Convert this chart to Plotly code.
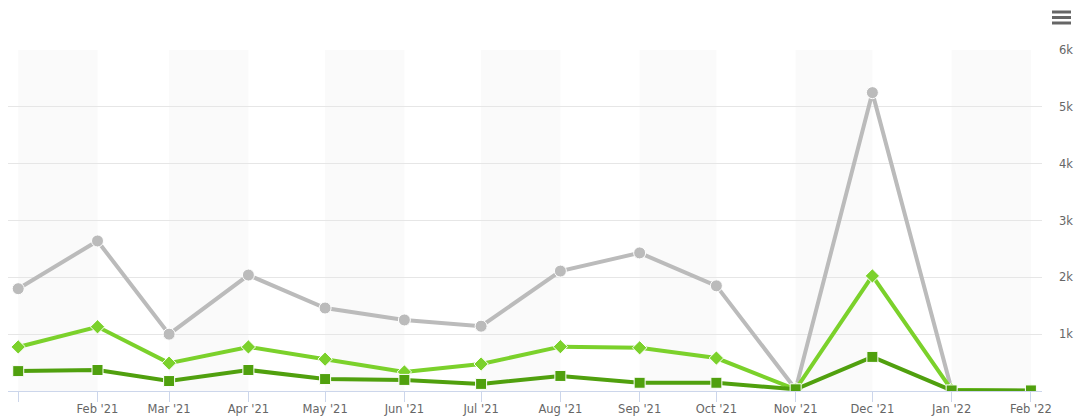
import plotly.graph_objects as go

# Monthly data points
months = ["2021-01-01", "2021-02-01", "2021-03-01", "2021-04-01", "2021-05-01",
          "2021-06-01", "2021-07-01", "2021-08-01", "2021-09-01", "2021-10-01",
          "2021-11-01", "2021-12-01", "2022-01-01", "2022-02-01"]
month_labels = ["", "Feb '21", "Mar '21", "Apr '21", "May '21", "Jun '21", "Jul '21",
                "Aug '21", "Sep '21", "Oct '21", "Nov '21", "Dec '21", "Jan '22", "Feb '22"]

total = [1800, 2640, 1000, 2040, 1460, 1250, 1140, 2110, 2430, 1850, 30, 5250, 20, 0]
mid = [775, 1130, 490, 775, 560, 335, 475, 780, 760, 580, 30, 2025, 20, 0]
low = [350, 370, 175, 370, 210, 195, 125, 265, 145, 145, 30, 600, 10, 10]

y_ticks = [1000, 2000, 3000, 4000, 5000, 6000]
y_labels = ["1k", "2k", "3k", "4k", "5k", "6k"]

GRAY = "#bbbbbb"
LIGHT = "#7bd12b"
DARK = "#50a00e"

fig = go.Figure()
fig.add_trace(go.Scatter(x=months, y=total, mode="lines+markers",
                         line=dict(color=GRAY, width=4),
                         marker=dict(symbol="circle", size=12, color=GRAY,
                                     line=dict(color="white", width=1)),
                         showlegend=False))
fig.add_trace(go.Scatter(x=months, y=mid, mode="lines+markers",
                         line=dict(color=LIGHT, width=4),
                         marker=dict(symbol="diamond", size=11, color=LIGHT,
                                     line=dict(color="white", width=1)),
                         showlegend=False))
fig.add_trace(go.Scatter(x=months, y=low, mode="lines+markers",
                         line=dict(color=DARK, width=4),
                         marker=dict(symbol="square", size=11, color=DARK,
                                     line=dict(color="white", width=1)),
                         showlegend=False))

# Alternating month bands
shapes = []
for i in range(0, len(months) - 1, 2):
    shapes.append(dict(type="rect", xref="x", yref="paper",
                       x0=months[i], x1=months[i + 1], y0=0, y1=1,
                       fillcolor="#fafafa", line=dict(width=0), layer="below"))

# Menu icon (three bars) in the top-right corner
L, R, T, B = 8, 1042, 50, 391
def px_x(p):
    return (p - L) / (R - L)
def px_y(p):
    return (B - p) / (B - T)
for yy in (12, 17.5, 23):
    shapes.append(dict(type="line", xref="paper", yref="paper",
                       x0=px_x(1052), x1=px_x(1071), y0=px_y(yy), y1=px_y(yy),
                       line=dict(color="#666666", width=3)))

fig.update_layout(
    width=1079, height=416,
    margin=dict(l=L, r=1079 - R, t=T, b=416 - B),
    paper_bgcolor="white", plot_bgcolor="white",
    font=dict(family="DejaVu Sans", size=11, color="#666666"),
    shapes=shapes,
    xaxis=dict(type="date", range=["2020-12-28", "2022-02-05 08:00"],
               tickvals=months, ticktext=month_labels,
               showgrid=False, zeroline=False, automargin=False,
               showline=True, linecolor="#ccd6eb", linewidth=1,
               ticks="outside", ticklen=10, tickcolor="#ccd6eb",
               ticklabelstandoff=-3,
               tickfont=dict(size=11.5, color="#666666")),
    yaxis=dict(range=[0, 6000], side="right", automargin=False,
               tickvals=y_ticks, ticktext=y_labels,
               showgrid=True, gridcolor="#e6e6e6", gridwidth=1,
               zeroline=False, showline=False, ticks="",
               ticklabelstandoff=16,
               tickfont=dict(size=11.5, color="#666666")),
)

fig.write_html("out.html")
